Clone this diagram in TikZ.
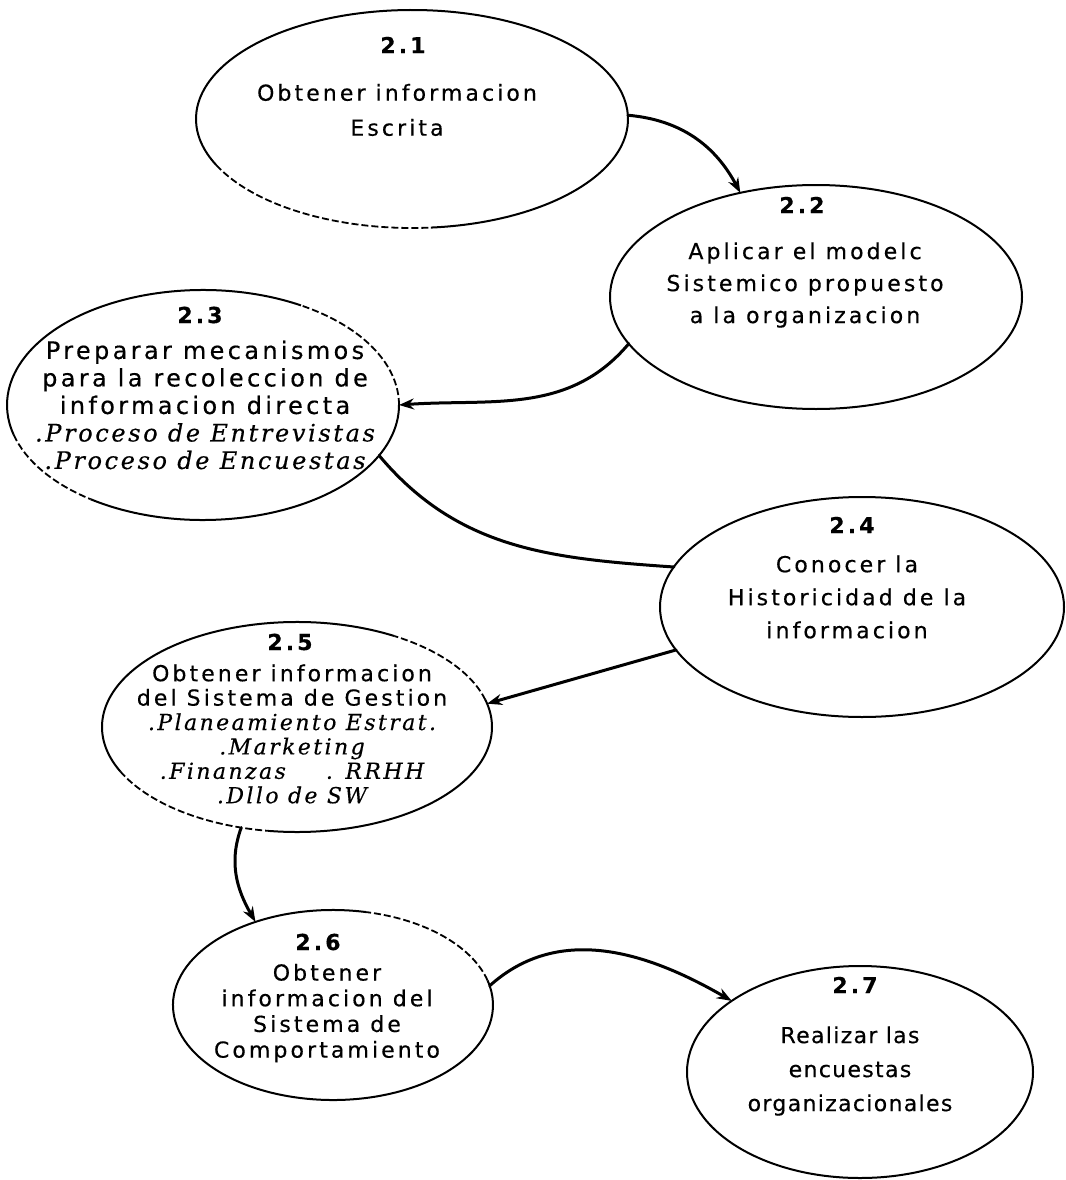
\documentclass[tikz,border=0pt]{standalone}
\usepackage{fontspec}
\usetikzlibrary{shapes.geometric,arrows.meta}
\newfontfamily\lbl[LetterSpace=14,FakeBold=0.4]{DejaVu Sans}
\newfontfamily\lbltight[LetterSpace=6,FakeBold=0.4]{DejaVu Sans}
\newfontfamily\itl[LetterSpace=11,FakeBold=0.4]{DejaVu Serif}
% one stretch of an ellipse outline: style, node, start angle, x radius, y radius, end angle
\newcommand\rimarc[6]{\draw[#1] ([shift={(#3:#4pt and #5pt)}]#2.center) arc[start angle=#3,end angle=#6,x radius=#4pt,y radius=#5pt];}
\begin{document}
\begin{tikzpicture}[x=1pt,y=-1pt,
  proc/.style={ellipse,draw=none,inner sep=0pt,outer sep=0pt},
  num/.style={inner sep=0pt,font={\lbl\bfseries\fontsize{22}{26}\selectfont}},
  body/.style={align=center,inner sep=0pt},
  conn/.style={line width=3pt,line cap=round},
  tip/.style={-{Stealth[length=15pt,width=11pt]}},
  rim/.style={line width=2pt},
  brk/.style={line width=1.8pt,dash pattern=on 7pt off 3pt}]
\useasboundingbox (0,0) rectangle (1065,1180);
\fill[white] (0,0) rectangle (1065,1180);

% process ellipses
\node[proc,minimum width=432pt,minimum height=218pt] (p21) at (412,119) {};
\node[proc,minimum width=412pt,minimum height=224pt] (p22) at (816,297) {};
\node[proc,minimum width=392pt,minimum height=230pt] (p23) at (203,405) {};
\node[proc,minimum width=404pt,minimum height=220pt] (p24) at (862,607) {};
\node[proc,minimum width=390pt,minimum height=210pt] (p25) at (297,727) {};
\node[proc,minimum width=320pt,minimum height=190pt] (p26) at (333,1005) {};
\node[proc,minimum width=346pt,minimum height=212pt] (p27) at (860,1072) {};

% outlines, with their broken stretches
\rimarc{rim}{p21}{275}{216}{109}{565}
\rimarc{brk}{p21}{205}{216}{109}{275}
\rimarc{rim}{p22}{0}{206}{112}{360}
\rimarc{brk}{p23}{0}{196}{115}{60}
\rimarc{rim}{p23}{60}{196}{115}{195}
\rimarc{brk}{p23}{195}{196}{115}{235}
\rimarc{rim}{p23}{235}{196}{115}{360}
\rimarc{rim}{p24}{0}{202}{110}{360}
\rimarc{brk}{p25}{15}{195}{105}{60}
\rimarc{rim}{p25}{60}{195}{105}{205}
\rimarc{brk}{p25}{205}{195}{105}{262}
\rimarc{rim}{p25}{262}{195}{105}{375}
\rimarc{brk}{p26}{15}{160}{95}{78}
\rimarc{rim}{p26}{78}{160}{95}{375}
\rimarc{rim}{p27}{0}{173}{106}{360}

% numbers
\node[num] (n21) at (403,45) {2.1};
\node[num] (n22) at (802,205) {2.2};
\node[num] (n23) at (200,315) {2.3};
\node[num] (n24) at (852,525) {2.4};
\node[num] (n25) at (290,642) {2.5};
\node[num] (n26) at (318,942) {2.6};
\node[num] (n27) at (855,985) {2.7};

% descriptions
\node[body,font={\lbl\fontsize{22}{35}\selectfont}] (t21) at (397,110)
  {Obtener informacion\\Escrita};
\node[body,font={\lbl\fontsize{22}{32}\selectfont}] (t22) at (805,285)
  {Aplicar el modelc\\Sistemico propuesto\\a la organizacion};
\node[body,font={\lbl\fontsize{24}{27.5}\selectfont}] (t23) at (205,405)
  {Preparar mecanismos\\para la recoleccion de\\informacion directa\\
   {\itl\itshape .Proceso de Entrevistas}\\{\itl\itshape .Proceso de Encuestas}};
\node[body,font={\lbl\fontsize{22}{33}\selectfont}] (t24) at (847,597)
  {Conocer la\\Historicidad de la\\informacion};
\node[body,font={\lbl\fontsize{22}{24.4}\selectfont}] (t25) at (292,734)
  {Obtener informacion\\del Sistema de Gestion\\
   {\itl\itshape .Planeamiento Estrat.}\\{\itl\itshape .Marketing}\\
   {\itl\itshape .Finanzas\hspace{40pt}. RRHH}\\{\itl\itshape .Dllo de SW}};
\node[body,font={\lbl\fontsize{22}{25.7}\selectfont}] (t26) at (327,1013)
  {Obtener\\informacion del\\Sistema de\\Comportamiento};
\node[body,font={\lbltight\fontsize{22}{34}\selectfont}] (t27) at (850,1071)
  {Realizar las\\encuestas\\organizacionales};

% flow between the processes
\draw[conn,tip] (p21.1) to[out=-5,in=118] (p22.126);
\draw[conn,tip] (p22.194) to[out=-130,in=4] (p23.0);
\draw[conn] (p23.-16) to[out=-50,in=176] (p24.168);
\draw[conn,tip] (p24.193) -- (p25.7);
\draw[conn,tip] (p25.241) to[out=-110,in=120] (p26.133);
\draw[conn,tip] (p26.7) to[out=42,in=150] (p27.151);
\end{tikzpicture}
\end{document}
